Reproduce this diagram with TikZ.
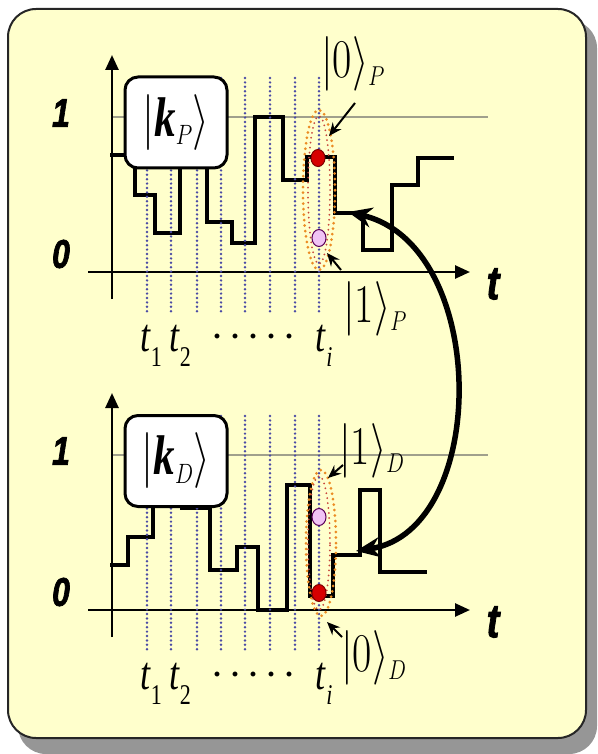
\RequirePackage{fix-cm}
\documentclass[tikz,border=0pt]{standalone}
\usepackage{amsmath}
\usepackage{fontspec}
\setmainfont{Liberation Serif}
\newfontfamily\axisfont[BoldItalicFeatures={FakeBold=2}]{Liberation Sans}
\usepackage{graphicx}
\usetikzlibrary{arrows.meta,shapes.geometric}
\definecolor{bgyellow}{RGB}{255,255,204}
\definecolor{shadowgrey}{RGB}{150,150,150}
\definecolor{dotblue}{RGB}{75,75,165}
\definecolor{ellorange}{RGB}{235,140,35}
\definecolor{ellred}{RGB}{200,70,60}
\definecolor{reddot}{RGB}{215,0,0}
\definecolor{pinkdot}{RGB}{240,195,245}
\definecolor{levelgrey}{RGB}{160,160,140}
\newcommand{\ketlab}[2]{\scalebox{1}[1.3]{$|#1\rangle_{\scriptscriptstyle #2}$}}
\newcommand{\boxket}[1]{\scalebox{1}[1.3]{$|\mbox{\bfseries\itshape k}_{\scriptscriptstyle #1}\rangle$}}
\newcommand{\tsub}[1]{\scalebox{1}[1.3]{\textit{t}\raisebox{-0.32em}{\fontsize{22}{22}\selectfont #1}}}
\begin{document}
\begin{tikzpicture}[x=1pt,y=-1pt,
  sigline/.style={line width=3.5pt, line join=miter, line cap=rect},
  axisline/.style={line width=2.6pt, -{Triangle[length=15pt,width=13pt]}},
  levelline/.style={line width=1.6pt, levelgrey},
  dotline/.style={line width=2.7pt, dotblue, dash pattern=on 0pt off 4.4pt, line cap=round},
  ellline/.style={line width=3pt, ellorange, dash pattern=on 0pt off 5.5pt, line cap=round},
  ellinner/.style={line width=2pt, ellred, dash pattern=on 0pt off 5pt, line cap=round},
  axlab/.style={font=\axisfont\bfseries\itshape\fontsize{32}{32}\selectfont, inner sep=0pt},
  tlab/.style={font=\fontsize{36}{40}\selectfont, inner sep=0pt},
  ketnode/.style={font=\fontsize{42}{50}\selectfont, inner sep=0pt, anchor=west},
  kbox/.style={draw, line width=3pt, rounded corners=13pt, fill=white, minimum width=102pt, minimum height=91pt, inner sep=0pt, font=\fontsize{43}{50}\selectfont},
  reddotst/.style={ellipse, draw=red!50!black, line width=1pt, fill=reddot, minimum width=14pt, minimum height=17pt, inner sep=0pt},
  pinkdotst/.style={ellipse, draw=violet!70!black, line width=1pt, fill=pinkdot, minimum width=14pt, minimum height=17pt, inner sep=0pt},
  thinarrow/.style={line width=2pt, -{Stealth[length=13pt,width=11pt]}},
  bigarrow/.style={line width=5.5pt, {Stealth[length=24pt,width=20pt]}-{Stealth[length=24pt,width=20pt]}}
]
\useasboundingbox (0,0) rectangle (597,754);
% frame
\fill[shadowgrey, rounded corners=28pt] (18,20) rectangle (597,754);
\draw[fill=bgyellow, draw=black!85, line width=2pt, rounded corners=28pt] (8,9) rectangle (586,738);

% common parts of both panels
\foreach \oy/\s in {0/P,338/D}{
  \draw[levelline] (112,{117+\oy}) -- (488,{117+\oy});
  \draw[axisline] (88,{272+\oy}) -- (470,{272+\oy});
  \draw[axisline] (112,{299+\oy}) -- (112,{55+\oy});
  \node[axlab] (one\s) at (61,{113+\oy}) {\scalebox{1}[1.25]{1}};
  \node[axlab] (zero\s) at (61,{254+\oy}) {\scalebox{1}[1.25]{0}};
  \node[axlab, font=\axisfont\bfseries\itshape\fontsize{38}{38}\selectfont] (t\s) at (493,{284+\oy}) {\scalebox{1}[1.25]{t}};
  \node[tlab] (tone\s) at (151,{346+\oy}) {\tsub{1}};
  \node[tlab] (ttwo\s) at (180,{346+\oy}) {\tsub{2}};
  \node[tlab] (dots\s) at (253,{336+\oy}) {\fontsize{30}{30}\selectfont\bfseries .\kern10.5pt.\kern10.5pt.\kern10.5pt.\kern10.5pt.};
  \node[tlab] (ti\s) at (324,{346+\oy}) {\tsub{\textit{i}}};
}

% top signal
\draw[sigline] (112,155) -- (127,155);
\draw[sigline] (135,168) -- (135,195) -- (155,195) -- (155,233) -- (180,233) -- (180,168);
\draw[sigline] (207,168) -- (207,222) -- (232,222) -- (232,243) -- (255,243) -- (255,117) -- (283,117) -- (283,180) -- (307,180) -- (307,157) -- (335,157) -- (335,213) -- (363,213) -- (363,250) -- (392,250) -- (392,185) -- (418,185) -- (418,158) -- (452,158);
% bottom signal
\draw[sigline] (112,565) -- (128,565) -- (128,537) -- (153,537) -- (153,506);
\draw[sigline] (182,508) -- (210,508) -- (210,570) -- (237,570) -- (237,547) -- (258,547) -- (258,610) -- (287,610) -- (287,485) -- (310,485) -- (310,596) -- (333,596) -- (333,555) -- (360,555) -- (360,490) -- (380,490) -- (380,572) -- (425,572);

% dotted time lines
\foreach \oy in {0,338}{
  \foreach \x in {147,171,197,221,245,270,295,319}{
    \draw[dotline] (\x,{78+\oy}) -- (\x,{313+\oy});
  }
}

% state boxes
\node[kbox] (boxP) at (176,122.5) {\boxket{P}};
\node[kbox] (boxD) at (176,461) {\boxket{D}};

% dotted ellipses
\draw[ellline] (319,190) ellipse [x radius=16pt, y radius=80pt];
\draw[ellinner] (319,190) ellipse [x radius=11pt, y radius=74pt];
\draw[ellline] (321,543) ellipse [x radius=15pt, y radius=73pt];
\draw[ellinner] (319,543) ellipse [x radius=11pt, y radius=67pt];

% dots
\node[reddotst] (redP) at (318,158) {};
\node[pinkdotst] (pinkP) at (319,238) {};
\node[pinkdotst] (pinkD) at (319,517) {};
\node[reddotst] (redD) at (319,593) {};

% ket labels
\node[ketnode] (ketzeroP) at (321,64) {\ketlab{0}{P}};
\node[ketnode] (ketoneP) at (343,309) {\ketlab{1}{P}};
\node[ketnode] (ketoneD) at (339,451) {\ketlab{1}{D}};
\node[ketnode] (ketzeroD) at (341,658) {\ketlab{0}{D}};

% small arrows
\coordinate (tailRP) at (355,103);
\coordinate (tipRP) at (329,136);
\coordinate (tailPP) at (341,270);
\coordinate (tipPP) at (327,253);
\coordinate (tailPD) at (343,465);
\coordinate (tipPD) at (328,478);
\coordinate (tailRD) at (342,637);
\coordinate (tipRD) at (327,622);
\draw[thinarrow] (tailRP) -- (tipRP);
\draw[thinarrow] (tailPP) -- (tipPP);
\draw[thinarrow] (tailPD) -- (tipPD);
\draw[thinarrow] (tailRD) -- (tipRD);

% big curved arrow
\coordinate (cTop) at (348,212);
\coordinate (cBot) at (356,551);
\draw[bigarrow] (cTop) .. controls (490,245) and (490,530) .. (cBot);
\end{tikzpicture}
\end{document}
